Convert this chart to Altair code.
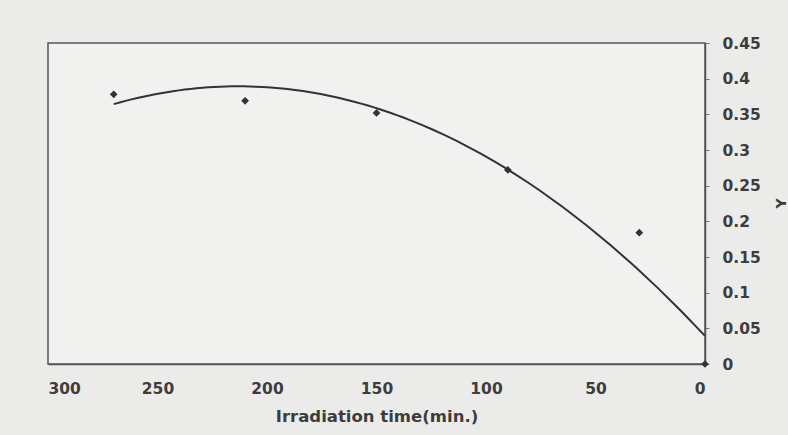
import altair as alt
import pandas as pd

# Measured samples
irradiation_min = [270, 210, 150, 90, 30, 0]
y_values = [0.378, 0.369, 0.352, 0.272, 0.184, 0.0]

# Axis tick labels
x_ticks = [300, 250, 200, 150, 100, 50, 0]
y_ticks = [0, 0.05, 0.1, 0.15, 0.2, 0.25, 0.3, 0.35, 0.4, 0.45]

df = pd.DataFrame({"t": irradiation_min, "y": y_values})

FONT = "DejaVu Sans"
INK = "#3d3d3d"

x_enc = alt.X(
    "t:Q",
    scale=alt.Scale(domain=[0, 300], reverse=True, nice=False, zero=False),
    axis=alt.Axis(
        values=x_ticks,
        format="d",
        title="Irradiation time(min.)",
        ticks=False,
        grid=False,
        domainColor="#555555",
        domainWidth=1.5,
        labelPadding=17,
        labelFontSize=15.5,
        labelFontWeight="bold",
        labelColor=INK,
        labelFont=FONT,
        titleFont=FONT,
        titleFontSize=16.5,
        titleFontWeight="bold",
        titleColor=INK,
        titlePadding=12,
    ),
)

y_enc = alt.Y(
    "y:Q",
    scale=alt.Scale(domain=[0, 0.45], nice=False),
    axis=alt.Axis(
        orient="right",
        values=y_ticks,
        format="~g",
        title="Y",
        grid=False,
        tickSize=4,
        tickColor="#777777",
        domainColor="#555555",
        domainWidth=1.5,
        labelPadding=13,
        labelFontSize=15.5,
        labelFontWeight="bold",
        labelColor=INK,
        labelFont=FONT,
        titleFont=FONT,
        titleFontSize=14,
        titleFontWeight="bold",
        titleColor=INK,
        titleAngle=270,
        titleBaseline="top",
        titleX=69,
        titleY=160,
    ),
)

points = alt.Chart(df).mark_point(
    shape="diamond", filled=True, size=60, color="#333333", opacity=1
).encode(x=x_enc, y=y_enc)

# Second-order polynomial trend line through the samples
trend = (
    alt.Chart(df)
    .transform_regression("t", "y", method="poly", order=2)
    .mark_line(color="#333333", strokeWidth=2)
    .encode(x=x_enc, y=y_enc)
)

chart = (
    alt.layer(trend, points)
    .properties(
        width=657,
        height=321,
        background="#ebebea",
        autosize=alt.AutoSizeParams(type="none"),
        padding={"left": 48, "top": 43, "right": 83, "bottom": 71},
    )
    .configure_view(stroke="#555555", strokeWidth=1.5, fill="#f1f1f0")
)

chart.save("out.html", embed_options={"renderer": "svg", "actions": False})
